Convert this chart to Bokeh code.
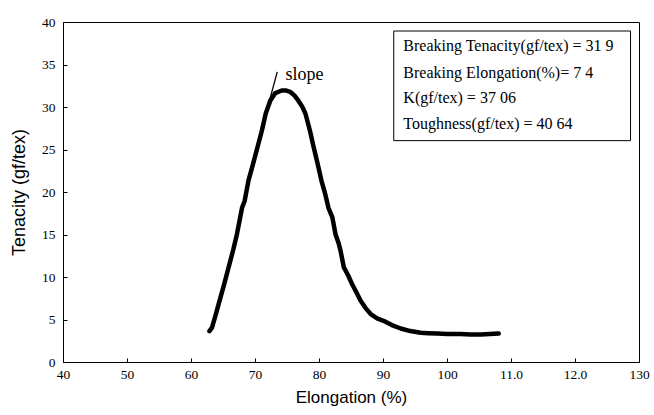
from bokeh.plotting import figure
from bokeh.models import Range1d, FixedTicker
from bokeh.core.properties import value
from bokeh.embed import file_html
from bokeh.resources import INLINE

# Data: tenacity-elongation curve
elongation = [62.8, 63.2, 63.7, 64.4, 65.1, 65.8, 66.5, 67.1, 67.9, 68.3, 68.9, 69.6, 70.3,
              71.0, 71.6, 72.3, 73.1, 74.1, 74.8, 75.5, 76.1, 76.7, 77.3, 77.8, 78.5, 79.1,
              79.7, 80.3, 80.9, 81.4, 82.0, 82.5, 83.0, 83.3, 83.8, 84.5, 85.1, 85.8, 86.4,
              87.2, 88.0, 89.0, 90.0, 91.3, 92.7, 94.2, 95.8, 97.0, 98.4, 100.0, 102.0,
              103.6, 105.2, 106.6, 108.0]
tenacity = [3.7, 4.1, 5.4, 7.3, 9.2, 11.2, 13.2, 15.1, 18.2, 19.0, 21.4, 23.3, 25.3,
            27.3, 29.3, 30.8, 31.7, 32.0, 32.0, 31.8, 31.4, 30.8, 30.1, 29.3, 27.3, 25.3,
            23.4, 21.4, 19.8, 18.2, 17.1, 15.1, 14.0, 13.1, 11.2, 10.2, 9.2, 8.2, 7.3,
            6.4, 5.7, 5.2, 4.9, 4.4, 4.0, 3.7, 3.5, 3.45, 3.4, 3.35, 3.35, 3.3, 3.3, 3.35, 3.4]

slope_x = [71.5, 73.4]
slope_y = [28.9, 34.2]

x_ticks = [40, 50, 60, 70, 80, 90, 100, 110, 120, 130]
x_tick_labels = ["40", "50", "60", "70", "80", "90", "100", "11.0", "12.0", "130"]
y_ticks = [0, 5, 10, 15, 20, 25, 30, 35, 40]
y_tick_labels = ["0", "5", "10", "15", "20", "25", "30", "35", "40"]

info_lines = ["Breaking Tenacity(gf/tex) = 31 9",
              "Breaking Elongation(%)= 7 4",
              "K(gf/tex) = 37 06",
              "Toughness(gf/tex) = 40 64"]

p = figure(width=650, height=412, output_backend="svg", toolbar_location=None,
           x_range=Range1d(40, 130), y_range=Range1d(0, 40),
           min_border_left=63, min_border_right=11, min_border_top=22, min_border_bottom=50)

p.xgrid.visible = False
p.ygrid.visible = False
p.outline_line_color = "black"
p.outline_line_width = 1
p.outline_line_alpha = 1
p.background_fill_color = "white"
p.border_fill_color = "white"

serif = "Liberation Serif"
sans = "Liberation Sans"

p.xaxis.ticker = FixedTicker(ticks=x_ticks)
p.yaxis.ticker = FixedTicker(ticks=y_ticks)
p.xaxis.major_label_overrides = {t: l for t, l in zip(x_ticks, x_tick_labels)}
p.yaxis.major_label_overrides = {t: l for t, l in zip(y_ticks, y_tick_labels)}
for ax in (p.xaxis, p.yaxis):
    ax.major_tick_in = 4
    ax.major_tick_out = 0
    ax.minor_tick_in = 0
    ax.minor_tick_out = 0
    ax.axis_line_color = "black"
    ax.major_tick_line_color = "black"
    ax.major_label_text_font = serif
    ax.major_label_text_font_size = "13.5px"
    ax.major_label_text_color = "black"
    ax.axis_label_text_font = sans
    ax.axis_label_text_font_style = "normal"
    ax.axis_label_text_color = "black"

p.xaxis.axis_label = "Elongation (%)"
p.yaxis.axis_label = "Tenacity (gf/tex)"
p.xaxis.axis_label_text_font_size = "17px"
p.yaxis.axis_label_text_font_size = "18px"
p.xaxis.major_label_standoff = 8
p.yaxis.major_label_standoff = 8
p.xaxis.axis_label_standoff = 6
p.yaxis.axis_label_standoff = 10

# curve
p.line(elongation, tenacity, line_color="black", line_width=4.5, line_join="round", line_cap="round")
# slope tangent
p.line(slope_x, slope_y, line_color="black", line_width=1.3)
p.text(x=[74.7], y=[33.9], text=["slope"], text_font=value(serif), text_font_size="18px",
       text_baseline="middle", text_align="left", text_color="black")

# info box
p.quad(left=[91.6], right=[128.6], bottom=[26.1], top=[39.0], fill_color="white",
       line_color="black", line_width=1)
info_y = [37.25, 34.1, 31.15, 28.1]
p.text(x=[93.1] * 4, y=info_y, text=info_lines, text_font=value(serif), text_font_size="16px",
       text_baseline="middle", text_align="left", text_color="black")

open("out.html", "w").write(file_html(p, INLINE))
